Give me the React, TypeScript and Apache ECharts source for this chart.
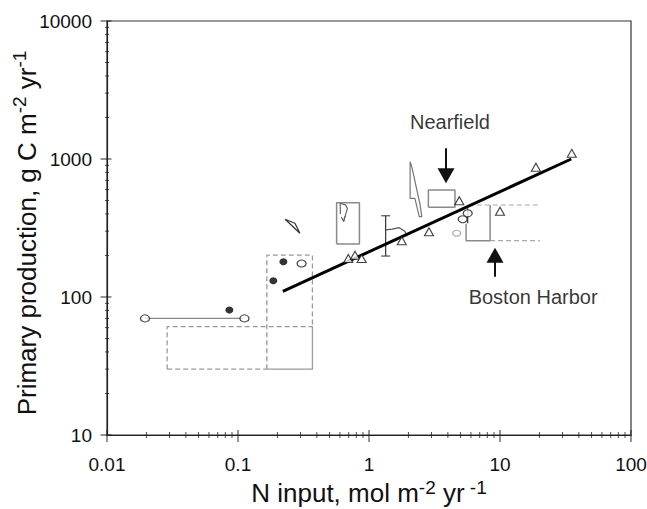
import React, { useEffect, useRef } from "react";
import * as echarts from "echarts";

const FONT = '"Liberation Sans", Arial, Helvetica, sans-serif';

// Axis ticks
const xTickLabels = [0.01, 0.1, 1, 10, 100];
const yTickLabels = [10, 100, 1000, 10000];
const minorMultipliers = [2, 3, 4, 5, 6, 7, 8, 9];

// Data (x = N input, y = primary production)
const regressionLine = [[0.22, 110], [35, 1000]];
const triangles = [
  [35.3, 1100], [18.8, 871], [4.89, 499], [10.0, 418], [2.87, 297],
  [1.78, 256], [0.695, 190], [0.782, 201], [0.879, 190],
];
const openCircles = [[0.306, 175], [0.112, 70], [0.0195, 70], [5.67, 404], [5.19, 366]];
const grayCircles = [[4.67, 290]];
const filledCircles = [[0.222, 180], [0.186, 131], [0.0859, 80.5]];
const connector = [[0.0195, 70], [0.112, 70]];

// Range boxes / shapes
const boxA = [[0.0288, 30], [0.0288, 61], [0.37, 61]];
const boxABottom = [[0.0288, 30], [0.166, 30]];
const boxBDashed = [[0.166, 30], [0.166, 201], [0.37, 201], [0.37, 61]];
const boxBSolid = [[0.37, 61], [0.37, 30], [0.166, 30]];
const grayRect = [[0.566, 242], [0.566, 482], [0.845, 482], [0.845, 242], [0.566, 242]];
const hookLine = [[0.605, 400], [0.603, 478], [0.66, 465], [0.685, 440], [0.64, 352]];
const hookHead = [[0.615, 380], [0.64, 352], [0.655, 385]];
const nearfieldRect = [[2.84, 447], [2.84, 596], [4.53, 596], [4.53, 447], [2.84, 447]];
const sliver1 = [[0.229, 366], [0.272, 342], [0.297, 290], [0.229, 366]];
const sliver2 = [[2.06, 955], [2.06, 519], [2.24, 519], [2.42, 382], [2.53, 382], [2.45, 470], [2.12, 880], [2.06, 955]];
const errorBar = [[1.34, 198], [1.34, 388]];
const errorCaps = [[1.34, 198], [1.34, 388]];
const squiggle = [[1.34, 306], [1.5, 310], [1.7, 318], [1.88, 300], [1.95, 275]];
const circleBar = [[5.67, 342], [5.67, 440]];
const harborSolid = [[5.51, 340], [5.51, 256], [8.4, 256], [8.4, 464]];
const harborTop = [[5.78, 464], [20.2, 464]];
const harborBottom = [[8.4, 256], [20.2, 256]];

// Arrows: [start, head centre]
const nearfieldArrow = [[3.87, 1197], [3.87, 755]];
const harborArrow = [[9.16, 140], [9.16, 201]];
const annotations = [
  { name: "Nearfield", value: [4.15, 1854] },
  { name: "Boston Harbor", value: [17.9, 100] },
];

function fmt(v: number) {
  return String(Number(v.toPrecision(3)));
}

function lineSeries(data: number[][], color: string, width: number, type: any = "solid", z = 2) {
  return {
    type: "line",
    data,
    symbol: "none",
    silent: true,
    z,
    clip: false,
    lineStyle: { color, width, type },
  };
}

export default function App() {
  const ref = useRef<HTMLDivElement>(null);
  useEffect(() => {
    if (!ref.current) return;
    const chart = echarts.init(ref.current, undefined, { renderer: "svg" });

    const xMajor = xTickLabels.map((v) => [v, yTickLabels[0]]);
    const xMinor: number[][] = [];
    xTickLabels.slice(0, -1).forEach((d) => minorMultipliers.forEach((m) => xMinor.push([d * m, yTickLabels[0]])));
    const yMajor = yTickLabels.map((v) => [xTickLabels[0], v]);
    const yMinor: number[][] = [];
    yTickLabels.slice(0, -1).forEach((d) => minorMultipliers.forEach((m) => yMinor.push([xTickLabels[0], d * m])));

    const tickSeries = (data: number[][], size: number[], offset: number[] = [0, 0]) => ({
      type: "scatter",
      data,
      symbol: "rect",
      symbolSize: size,
      symbolOffset: offset,
      silent: true,
      clip: false,
      z: 5,
      itemStyle: { color: "#222" },
    });

    const dashGray = [5, 3];
    const option: any = {
      animation: false,
      backgroundColor: "#fff",
      grid: {
        left: 107, top: 21, right: 16, bottom: 74,
        containLabel: false, outerBoundsMode: "none",
        show: true, borderColor: "#333", borderWidth: 1.2,
      },
      xAxis: {
        type: "log",
        logBase: 10,
        min: 0.01,
        max: 100,
        axisLine: { show: true, lineStyle: { color: "#222", width: 1.2 } },
        axisTick: { show: false },
        splitLine: { show: false },
        axisLabel: { fontSize: 19, color: "#111", fontFamily: FONT, margin: 20, formatter: (v: number) => fmt(v) },
        name: "N input, mol m{sup|-2} yr{sup| -1}",
        nameLocation: "middle",
        nameMoveOverlap: false,
        nameGap: 43,
        nameTextStyle: {
          fontSize: 26,
          color: "#111",
          fontFamily: FONT,
          lineHeight: 30,
          rich: { sup: { fontSize: 19, fontFamily: FONT, color: "#111", verticalAlign: "top", lineHeight: 12 } },
        },
      },
      yAxis: {
        type: "log",
        logBase: 10,
        min: 10,
        max: 10000,
        axisLine: { show: true, lineStyle: { color: "#222", width: 1.2 } },
        axisTick: { show: false },
        splitLine: { show: false },
        axisLabel: { fontSize: 19, color: "#111", fontFamily: FONT, margin: 15, formatter: (v: number) => fmt(v) },
        name: "Primary production, g C m{sup|-2} yr{sup|-1}",
        nameLocation: "middle",
        nameMoveOverlap: false,
        nameGap: 63,
        nameTextStyle: {
          fontSize: 26,
          color: "#111",
          fontFamily: FONT,
          lineHeight: 34,
          padding: [0, 10, 0, 0],
          rich: { sup: { fontSize: 19, fontFamily: FONT, color: "#111", verticalAlign: "top", lineHeight: 16 } },
        },
      },
      series: [
        tickSeries(xMajor, [1.2, 12], [0, 1]),
        tickSeries(xMinor, [1, 6]),
        tickSeries(yMajor, [11, 1.2], [-1, 0]),
        tickSeries(yMinor, [4, 1]),
        lineSeries(boxA, "#9a9a9a", 1.3, dashGray),
        lineSeries(boxABottom, "#9a9a9a", 1.3, dashGray),
        lineSeries(boxBDashed, "#9a9a9a", 1.3, dashGray),
        lineSeries(boxBSolid, "#9a9a9a", 1.3),
        lineSeries(grayRect, "#8a8a8a", 1.5),
        lineSeries(hookLine, "#666", 1.2),
        lineSeries(hookHead, "#666", 1.2),
        lineSeries(nearfieldRect, "#8a8a8a", 1.5),
        lineSeries(sliver1, "#333", 1.2),
        lineSeries(sliver2, "#777", 1.2),
        lineSeries(errorBar, "#333", 1.2),
        lineSeries(squiggle, "#555", 1.2),
        lineSeries(circleBar, "#333", 1.2),
        lineSeries(harborSolid, "#8a8a8a", 1.5),
        lineSeries(harborTop, "#aaa", 1.2, dashGray),
        lineSeries(harborBottom, "#aaa", 1.2, dashGray),
        lineSeries(connector, "#888", 1.2),
        {
          ...lineSeries(regressionLine, "#000", 3, "solid", 4),
          markLine: {
            silent: true,
            symbol: ["none", "triangle"],
            symbolSize: [17, 15],
            label: { show: false },
            lineStyle: { color: "#111", width: 2, type: "solid" },
            data: [
              [{ coord: nearfieldArrow[0] }, { coord: nearfieldArrow[1] }],
              [{ coord: harborArrow[0] }, { coord: harborArrow[1] }],
            ],
          },
        },
        {
          type: "scatter",
          data: errorCaps,
          symbol: "rect",
          symbolSize: [9, 1.3],
          silent: true,
          z: 6,
          itemStyle: { color: "#333" },
        },
        {
          type: "scatter",
          data: triangles,
          symbol: "triangle",
          symbolSize: [9, 8],
          silent: true,
          z: 6,
          itemStyle: { color: "#fff", borderColor: "#111", borderWidth: 1.1 },
        },
        {
          type: "scatter",
          data: openCircles,
          symbol: "circle",
          symbolSize: [9, 7],
          silent: true,
          z: 6,
          itemStyle: { color: "#fff", borderColor: "#222", borderWidth: 1.2 },
        },
        {
          type: "scatter",
          data: grayCircles,
          symbol: "circle",
          symbolSize: [8, 6],
          silent: true,
          z: 6,
          itemStyle: { color: "#fff", borderColor: "#999", borderWidth: 1.2 },
        },
        {
          type: "scatter",
          data: filledCircles,
          symbol: "circle",
          symbolSize: [8, 7],
          silent: true,
          z: 6,
          itemStyle: { color: "#000" },
        },
        {
          type: "scatter",
          data: annotations,
          symbolSize: 0,
          silent: true,
          z: 7,
          label: {
            show: true,
            position: "inside",
            formatter: (p: any) => p.name,
            fontSize: 20,
            color: "#000",
            fontFamily: FONT,
          },
        },
      ],
    };
    chart.setOption(option);
    return () => chart.dispose();
  }, []);

  return (
    <div
      ref={ref}
      style={{ position: "fixed", left: 0, top: 0, width: 647, height: 509, background: "#fff" }}
    />
  );
}
